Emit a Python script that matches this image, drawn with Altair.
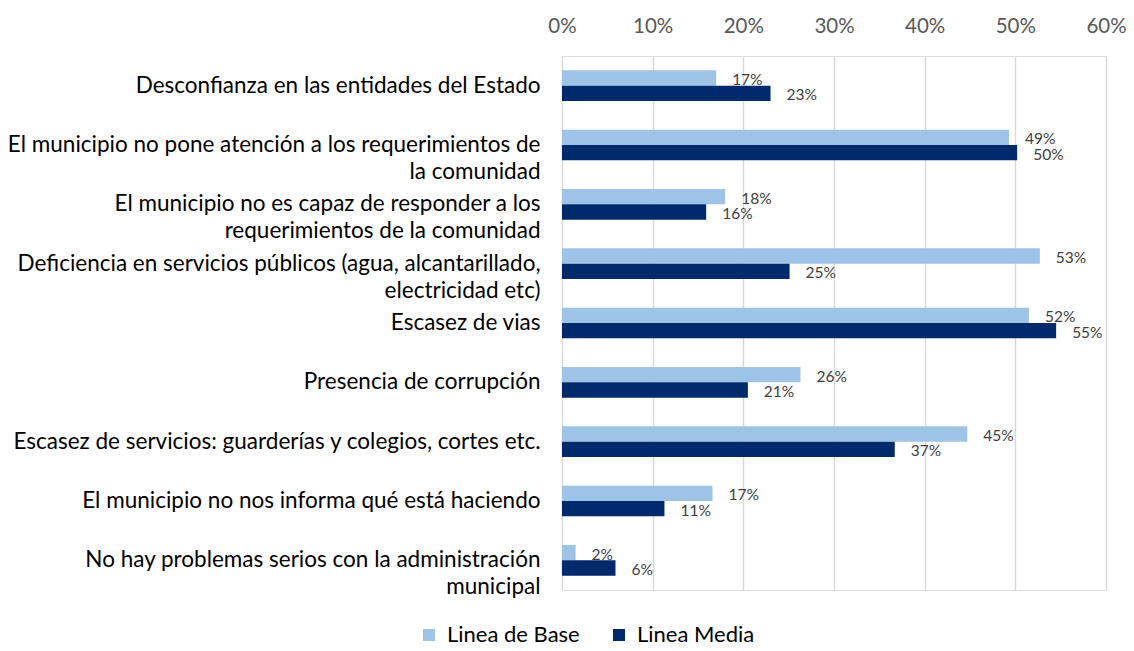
import altair as alt
import pandas as pd

categories = [
    "Desconfianza en las entidades del Estado",
    "El municipio no pone atención a los requerimientos de|la comunidad",
    "El municipio no es capaz de responder a los|requerimientos de la comunidad",
    "Deficiencia en servicios públicos (agua, alcantarillado,|electricidad etc)",
    "Escasez de vias",
    "Presencia de corrupción",
    "Escasez de servicios: guarderías y colegios, cortes etc.",
    "El municipio no nos informa qué está haciendo",
    "No hay problemas serios con la administración|municipal",
]
series = ["Linea de Base", "Linea Media"]
linea_base = [0.170, 0.493, 0.180, 0.527, 0.515, 0.263, 0.447, 0.166, 0.015]
linea_media = [0.230, 0.502, 0.159, 0.251, 0.545, 0.205, 0.367, 0.113, 0.059]
colors = ["#9DC3E6", "#002A6C"]
x_ticks = [0, 0.1, 0.2, 0.3, 0.4, 0.5, 0.6]

rows = []
for c, b, m in zip(categories, linea_base, linea_media):
    rows.append({"categoria": c, "serie": series[0], "valor": b})
    rows.append({"categoria": c, "serie": series[1], "valor": m})
df = pd.DataFrame(rows)

FONT = "Lato"

y_enc = alt.Y(
    "categoria:N",
    sort=categories,
    scale=alt.Scale(paddingInner=0.483, paddingOuter=0.2415),
    axis=alt.Axis(
        title=None,
        labelExpr="split(datum.label, '|')",
        labelFont=FONT,
        labelFontSize=22.5,
        labelColor="#000000",
        labelLineHeight=27,
        labelPadding=22,
        labelLimit=700,
        domain=False,
        ticks=False,
    ),
)
yoff_enc = alt.YOffset("serie:N", sort=series, scale=alt.Scale(paddingInner=0, paddingOuter=0))
x_enc = alt.X(
    "valor:Q",
    scale=alt.Scale(domain=[0, 0.6], nice=False),
    axis=alt.Axis(
        title=None,
        orient="top",
        format=".0%",
        values=x_ticks,
        labelFont=FONT,
        labelFontSize=20.5,
        labelColor="#595959",
        labelPadding=20,
        labelFlush=False,
        domain=False,
        ticks=False,
        gridColor="#D9D9D9",
        gridWidth=1.5,
    ),
)
color_enc = alt.Color(
    "serie:N",
    sort=series,
    scale=alt.Scale(domain=series, range=colors),
    legend=alt.Legend(
        title=None,
        orient="none",
        direction="horizontal",
        legendX=-144,
        legendY=568,
        symbolType="square",
        symbolSize=144,
        symbolStrokeWidth=0,
        labelFont=FONT,
        labelFontSize=22,
        labelColor="#000000",
        labelOffset=7,
        columnPadding=28,
    ),
)

bars = alt.Chart(df).mark_bar(stroke=None).encode(
    x=x_enc, y=y_enc, yOffset=yoff_enc, color=color_enc
)
labels = alt.Chart(df).mark_text(
    align="left", baseline="middle", dx=16, dy=2, font=FONT, fontSize=15.5, color="#404040"
).encode(
    x=alt.X("valor:Q"),
    y=alt.Y("categoria:N", sort=categories),
    yOffset=alt.YOffset("serie:N", sort=series),
    text=alt.Text("valor:Q", format=".0%"),
)

chart = (
    alt.layer(bars, labels)
    .properties(
        width=544,
        height=534,
        autosize=alt.AutoSizeParams(type="none"),
        padding={"left": 554, "top": 48, "right": 20, "bottom": 58},
    )
    .configure_view(stroke=None)
    .configure(background="white")
)

chart.save("out.html", embed_options={"renderer": "svg", "actions": False})
